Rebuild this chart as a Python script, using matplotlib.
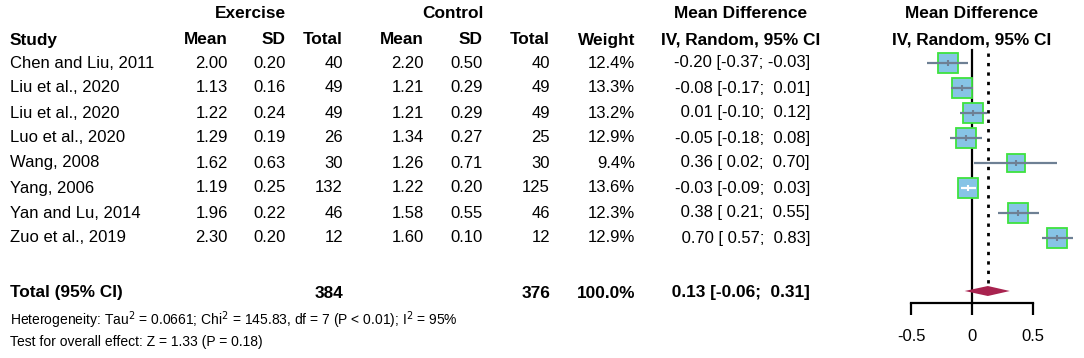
import matplotlib
matplotlib.use("Agg")
import matplotlib.pyplot as plt
import numpy as np

plt.rcParams['font.family'] = ['Liberation Sans', 'DejaVu Sans']

# ---------------- data ----------------
studies = ["Chen and Liu, 2011", "Liu et al., 2020", "Liu et al., 2020", "Luo et al., 2020",
           "Wang, 2008", "Yang, 2006", "Yan and Lu, 2014", "Zuo et al., 2019"]
ex_mean = [2.00, 1.13, 1.22, 1.29, 1.62, 1.19, 1.96, 2.30]
ex_sd = [0.20, 0.16, 0.24, 0.19, 0.63, 0.25, 0.22, 0.20]
ex_n = [40, 49, 49, 26, 30, 132, 46, 12]
ct_mean = [2.20, 1.21, 1.21, 1.34, 1.26, 1.22, 1.58, 1.60]
ct_sd = [0.50, 0.29, 0.29, 0.27, 0.71, 0.20, 0.55, 0.10]
ct_n = [40, 49, 49, 25, 30, 125, 46, 12]
weight = [12.4, 13.3, 13.2, 12.9, 9.4, 13.6, 12.3, 12.9]
md = [-0.20, -0.08, 0.01, -0.05, 0.36, -0.03, 0.38, 0.70]
ci_lo = [-0.37, -0.17, -0.10, -0.18, 0.02, -0.09, 0.21, 0.57]
ci_hi = [-0.03, 0.01, 0.12, 0.08, 0.70, 0.03, 0.55, 0.83]
total_ex_n = 384
total_ct_n = 376
total_weight = 100.0
total_md = 0.13
total_lo = -0.06
total_hi = 0.31
x_ticks = [-0.5, 0, 0.5]
x_tick_labels = ["-0.5", "0", "0.5"]
het_text = r"Heterogeneity: Tau$^2$ = 0.0661; Chi$^2$ = 145.83, df = 7 (P < 0.01); I$^2$ = 95%"
test_text = "Test for overall effect: Z = 1.33 (P = 0.18)"

# ---------------- layout ----------------
W, H = 1084, 358
fig = plt.figure(figsize=(W / 100, H / 100), dpi=100)
tab = fig.add_axes([0, 0, 1, 1])
tab.set_xlim(0, W)
tab.set_ylim(H, 0)
tab.axis('off')

row_y0, row_dy = 63, 25
total_y = 293
FS = 12
FSB = 12.4
FS_SMALL = 10

def rowy(i):
    return row_y0 + row_dy * i

# column right edges (pixels)
cols = {'exm': 228, 'exs': 286, 'exn': 343, 'ctm': 424, 'cts': 483, 'ctn': 550,
        'w': 635, 'ci': 810}

# headers
tab.text(250, 14, "Exercise", ha='center', va='center', fontsize=FSB, fontweight='bold')
tab.text(453, 14, "Control", ha='center', va='center', fontsize=FSB, fontweight='bold')
tab.text(741, 14, "Mean Difference", ha='center', va='center', fontsize=FSB, fontweight='bold')
tab.text(972, 14, "Mean Difference", ha='center', va='center', fontsize=FSB, fontweight='bold')
hdr_y = 40
tab.text(10, hdr_y, "Study", ha='left', va='center', fontsize=FSB, fontweight='bold')
for key, lab in [('exm', 'Mean'), ('exs', 'SD'), ('exn', 'Total'), ('ctm', 'Mean'),
                 ('cts', 'SD'), ('ctn', 'Total'), ('w', 'Weight')]:
    tab.text(cols[key], hdr_y, lab, ha='right', va='center', fontsize=FSB, fontweight='bold')
tab.text(741, hdr_y, "IV, Random, 95% CI", ha='center', va='center', fontsize=FSB, fontweight='bold')
tab.text(972, hdr_y, "IV, Random, 95% CI", ha='center', va='center', fontsize=FSB, fontweight='bold')

def fmt_ci(m, l, h):
    return f"{m:5.2f} [{l:5.2f}; {h:5.2f}]"

for i in range(len(studies)):
    y = rowy(i)
    tab.text(10, y, studies[i], ha='left', va='center', fontsize=FS)
    vals = [('exm', f"{ex_mean[i]:.2f}"), ('exs', f"{ex_sd[i]:.2f}"), ('exn', f"{ex_n[i]}"),
            ('ctm', f"{ct_mean[i]:.2f}"), ('cts', f"{ct_sd[i]:.2f}"), ('ctn', f"{ct_n[i]}"),
            ('w', f"{weight[i]:.1f}%"), ('ci', fmt_ci(md[i], ci_lo[i], ci_hi[i]))]
    for key, s in vals:
        tab.text(cols[key], y, s, ha='right', va='center', fontsize=FS)

tab.text(10, total_y, "Total (95% CI)", ha='left', va='center', fontsize=FSB, fontweight='bold')
tab.text(cols['exn'], total_y, f"{total_ex_n}", ha='right', va='center', fontsize=FSB, fontweight='bold')
tab.text(cols['ctn'], total_y, f"{total_ct_n}", ha='right', va='center', fontsize=FSB, fontweight='bold')
tab.text(cols['w'], total_y, f"{total_weight:.1f}%", ha='right', va='center', fontsize=FSB, fontweight='bold')
tab.text(cols['ci'], total_y, fmt_ci(total_md, total_lo, total_hi), ha='right', va='center',
         fontsize=FSB, fontweight='bold')
tab.text(10, 320, het_text, ha='left', va='center', fontsize=FS_SMALL)
tab.text(10, 342, test_text, ha='left', va='center', fontsize=FS_SMALL)

# ---------------- forest axes ----------------
x0_px, unit_px = 972, 122.0
ax_left, ax_right = 880, W
ax = fig.add_axes([ax_left / W, 0, (ax_right - ax_left) / W, 1])
ax.set_xlim((ax_left - x0_px) / unit_px, (ax_right - x0_px) / unit_px)
ax.set_ylim((H - row_y0) / row_dy, (0 - row_y0) / row_dy)
ax.patch.set_alpha(0)
for s in ['top', 'right', 'left']:
    ax.spines[s].set_visible(False)
axis_row = (303 - row_y0) / row_dy
ax.spines['bottom'].set_position(('data', axis_row))
ax.spines['bottom'].set_bounds(min(x_ticks), max(x_ticks))
ax.spines['bottom'].set_linewidth(1.6)
ax.set_yticks([])
ax.set_xticks(x_ticks)
ax.set_xticklabels(x_tick_labels)
ax.tick_params(axis='x', direction='out', length=8.6, width=1.6, pad=10, labelsize=FS)

rows = np.arange(len(studies))
# null line
ax.plot([0, 0], [(50 - row_y0) / row_dy, axis_row], color='black', lw=1.6, zorder=1)
# pooled estimate dotted line
ax.plot([total_md, total_md], [(53 - row_y0) / row_dy, (283 - row_y0) / row_dy], color='black',
        lw=2.0, linestyle=(0, (1.2, 2.2)), zorder=1)

k_px = 20 / np.sqrt(12.4)
for i in rows:
    side_px = k_px * np.sqrt(weight[i])
    half_data = side_px / 2 / unit_px
    ax.plot(md[i], i, marker='s', markersize=side_px * 0.72, markerfacecolor='#87c4e6',
            markeredgecolor='#3ee23e', markeredgewidth=1.3, zorder=3, linestyle='none')
    inside = (md[i] - ci_lo[i] < half_data) and (ci_hi[i] - md[i] < half_data)
    lc = 'white' if inside else '#6e8094'
    ax.plot([ci_lo[i], ci_hi[i]], [i, i], color=lc, lw=1.6, zorder=4, solid_capstyle='butt')
    ax.plot(md[i], i, marker='|', markersize=4, color=lc, markeredgewidth=1.5, zorder=5)

total_row = (291 - row_y0) / row_dy
dh = 5 / row_dy
ax.fill([total_lo, total_md, total_hi, total_md], [total_row, total_row - dh, total_row, total_row + dh],
        color='#a8234f', zorder=3, lw=0)

fig.savefig("out.png", dpi=100)
